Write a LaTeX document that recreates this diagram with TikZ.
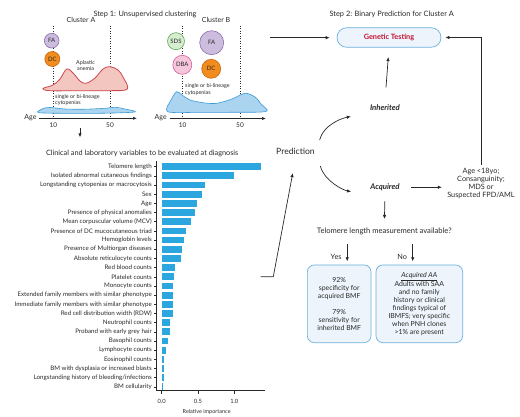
\documentclass[tikz,border=0pt]{standalone}
\usepackage{fontspec}
\setmainfont{Lato}
\usepackage{tikz}
\usetikzlibrary{arrows.meta, positioning, calc}
\definecolor{inkgray}{RGB}{40,40,40}
\definecolor{barblue}{RGB}{43,166,222}
\definecolor{boxblue}{RGB}{108,177,222}
\definecolor{boxfill}{RGB}{237,244,251}
\definecolor{testred}{RGB}{196,18,48}
\definecolor{fapurple}{RGB}{204,188,222}
\definecolor{faedge}{RGB}{140,110,176}
\definecolor{dcorange}{RGB}{242,140,30}
\definecolor{dcedge}{RGB}{200,100,15}
\definecolor{sdsgreen}{RGB}{214,237,208}
\definecolor{sdsedge}{RGB}{95,168,90}
\definecolor{dbapink}{RGB}{246,198,221}
\definecolor{dbaedge}{RGB}{215,90,155}
\definecolor{aafill}{RGB}{244,198,192}
\definecolor{aaedge}{RGB}{205,70,78}
\definecolor{cytofill}{RGB}{170,212,240}
\definecolor{cytoedge}{RGB}{60,155,215}

\begin{document}
\begin{tikzpicture}[
    x=1pt, y=-1pt,
    every node/.style={text=inkgray},
    steptitle/.style={font=\fontsize{7.4}{8}\selectfont},
    smalltxt/.style={font=\fontsize{5.4}{6.6}\selectfont, align=left, inner sep=0pt, anchor=west},
    disease/.style={circle, draw, line width=0.6pt, inner sep=0pt, font=\fontsize{6}{6}\selectfont},
    dotline/.style={line width=0.7pt, dash pattern=on 0.9pt off 1.6pt, inkgray},
    agearrow/.style={-{Latex[length=4pt,width=3.2pt]}, line width=0.7pt, inkgray},
    arrow/.style={-{Latex[length=4pt,width=3.5pt]}, line width=0.7pt, inkgray},
    branchtxt/.style={font=\fontsize{7.8}{9}\selectfont\bfseries\itshape},
    infobox/.style={draw=boxblue, fill=boxfill, rounded corners=7pt, line width=0.7pt, align=center, font=\fontsize{6.9}{8}\selectfont, minimum height=77.7pt, inner sep=1pt},
    gtest/.style={draw=boxblue, fill=boxfill, rounded corners=9.8pt, minimum width=104pt, minimum height=19.6pt, text=testred, font=\fontsize{7.3}{8}\selectfont\bfseries, line width=0.7pt},
    varlabel/.style={anchor=east, inner sep=0pt, font=\fontsize{6.2}{7}\selectfont}
]
    \useasboundingbox (0,0) rectangle (520,417);

    % Step 1: clusters
    \node[steptitle] (step1) at (145,14) {Step 1: Unsupervised clustering};
    \node[font=\fontsize{7}{8}\selectfont] (clA) at (81,20) {Cluster A};
    \node[font=\fontsize{7}{8}\selectfont] (clB) at (216,20) {Cluster B};

    \draw[dotline] (53.3,26) -- (53.3,118);
    \draw[dotline] (110,26) -- (110,118);
    \draw[dotline] (182.7,26) -- (182.7,118);
    \draw[dotline] (240,26) -- (240,118);

    % Cluster A curves
    \draw[aaedge, fill=aafill, line width=0.8pt] plot[smooth cycle, tension=0.6] coordinates {(43,88.5) (53,85) (60,79) (66.7,69) (73,73) (80,81) (86,83.3) (95,78) (103,69) (110,66.7) (118,70) (123,77) (127.3,89) (110,90.7) (80,90.7) (50,90.7)};
    \draw[cytoedge, fill=cytofill, line width=0.6pt] plot[smooth cycle, tension=0.5] coordinates {(38,112.5) (43.3,108.5) (50,107.5) (65,109) (85,109.2) (105,108.3) (115,107.3) (125,109) (135,112) (100,113.3) (60,113.3)};
    \node[smalltxt, align=center] (aa) at (76,65.5) {Aplastic\\anemia};
    \node[smalltxt] (cytoA) at (55,100) {single or bi-lineage\\cytopenias};

    % Cluster B curves
    \draw[cytoedge, fill=cytofill, line width=0.6pt] plot[smooth cycle, tension=0.5] coordinates {(167.7,111.7) (171,100) (176.7,91.7) (182,95) (190,100) (205,103) (217,103.3) (232,99) (245,93.3) (255,97) (261,104) (266,111.5) (230,112.3) (200,112.3)};
    \node[smalltxt] (cytoB) at (185,89.7) {single or bi-lineage\\cytopenias};

    % Syndromes
    \node[disease, draw=faedge, fill=fapurple, minimum size=14.7pt] (faA) at (51.7,40.7) {FA};
    \node[disease, draw=dcedge, fill=dcorange, minimum size=15pt] (dcA) at (52.3,59) {DC};
    \node[disease, draw=sdsedge, fill=sdsgreen, minimum size=17pt] (sds) at (176,41.2) {SDS};
    \node[disease, draw=faedge, fill=fapurple, minimum size=24pt] (faB) at (211.7,42.7) {FA};
    \node[disease, draw=dbaedge, fill=dbapink, minimum size=19pt] (dba) at (182.3,64.8) {DBA};
    \node[disease, draw=dcedge, fill=dcorange, minimum size=19pt] (dcB) at (211.2,68.8) {DC};

    % Age axes
    \draw[agearrow] (39,118.3) -- (137,118.3);
    \draw[agearrow] (170,118.5) -- (266,118.5);
    \node[font=\fontsize{7}{8}\selectfont] (ageA) at (30.5,118) {Age};
    \node[font=\fontsize{7}{8}\selectfont] (ageB) at (160.7,118) {Age};
    \foreach \ax in {53.3,182.7} \node[font=\fontsize{6.5}{7}\selectfont] at (\ax,124.8) {10};
    \foreach \ax in {110,240} \node[font=\fontsize{6.5}{7}\selectfont] at (\ax,124.8) {50};

    % Variable importance chart
    \node[font=\fontsize{7.3}{8}\selectfont] (charttitle) at (142.2,153.3) {Clinical and laboratory variables to be evaluated at diagnosis};
    \coordinate (s1down) at (80,128.3);
    \draw[arrow, shorten >=9pt] (s1down) -- (s1down |- charttitle.north);

    \foreach \lab/\val [count=\i] in {Telomere length/1.37, Isolated abnormal cutaneous findings/0.99, Longstanding cytopenias or macrocytosis/0.6, Sex/0.55, Age/0.49, Presence of physical anomalies/0.46, Mean corpuscular volume (MCV)/0.4, Presence of DC mucocutaneous triad/0.33, Hemoglobin levels/0.31, Presence of Multiorgan diseases/0.28, Absolute reticulocyte counts/0.27, Red blood counts/0.19, Platelet counts/0.17, Monocyte counts/0.15, Extended family members with similar phenotype/0.15, Immediate family members with similar phenotype/0.15, Red cell distribution width (RDW)/0.15, Neutrophil counts/0.115, Proband with early grey hair/0.115, Basophil counts/0.08, Lymphocyte counts/0.06, Eosinophil counts/0.03, BM with dysplasia or increased blasts/0.03, {Longstanding history of bleeding/infections}/0.025, BM cellularity/0.012}
    {
        \node[varlabel] at (152,{157.55+9.17*\i}) {\lab};
        \draw[inkgray, line width=0.5pt] (154,{157.55+9.17*\i}) -- (156.7,{157.55+9.17*\i});
        \fill[barblue] (161.7,{154.15+9.17*\i}) rectangle ({161.7+72.6*\val},{160.95+9.17*\i});
    }
    \draw[inkgray, line width=0.6pt] (156.7,161) -- (156.7,390.7) -- (265,390.7);
    \foreach \t/\tl in {0/0.0, 0.5/0.5, 1/1.0}
    {
        \draw[inkgray, line width=0.5pt] ({161.7+72.6*\t},390.7) -- ++(0,3);
        \node[font=\fontsize{5.8}{6}\selectfont] at ({161.7+72.6*\t},401.7) {\tl};
    }
    \node[font=\fontsize{5.5}{6}\selectfont] (relimp) at (206.7,412.3) {Relative importance};

    % Step 2: prediction
    \node[steptitle] (step2) at (391.7,14) {Step 2: Binary Prediction for Cluster A};
    \node[gtest] (gt) at (389,37.5) {Genetic Testing};
    \node[branchtxt] (inh) at (385,107.3) {Inherited};
    \node[font=\fontsize{8.6}{10}\selectfont] (pred) at (295.5,151.7) {Prediction};
    \node[branchtxt] (acq) at (385,187.3) {Acquired};
    \node[align=center, font=\fontsize{7.3}{7.8}\selectfont] (crit) at (481,183.3) {Age <18yo;\\Consanguinity;\\MDS or\\Suspected FPD/AML};
    \node[font=\fontsize{7.6}{9}\selectfont] (telq) at (384.3,231.7) {Telomere length measurement available?};
    \node[infobox, minimum width=63.7pt] (boxyes) at (339.2,303.8) {92\%\\specificity for\\acquired BMF\\[8pt]79\%\\sensitivity for\\inherited BMF};
    \node[infobox, minimum width=86.7pt] (boxno) at (419.3,303.8) {\underline{\textit{Acquired AA}}\\Adults with SAA\\and no family\\history or clinical\\findings typical of\\IBMFS; very specific\\when PNH clones\\>1\% are present};

    % Arrows
    \coordinate (s1out) at (270,37.7);
    \coordinate (chartout) at (260.7,276.7);
    \coordinate (yestop) at ([xshift=8pt]boxyes.north);
    \coordinate (notop) at ([xshift=-6.6pt]boxno.north);
    \draw[arrow, shorten >=7pt] (s1out) -- (s1out -| gt.west);
    \draw[arrow, shorten >=4pt] (crit.north) |- (gt.east);
    \draw[arrow, shorten <=13.6pt, shorten >=9.4pt] (inh.north) -- (gt.south);
    \draw[arrow, shorten <=5pt, shorten >=16pt] (pred.north east) to[out=75, in=190] (inh.south west);
    \draw[arrow, shorten <=8pt, shorten >=16pt] (pred.south east) to[out=-75, in=170] (acq.south west);
    \draw[arrow, shorten <=8pt, shorten >=2pt] (acq.east) -- (acq.east -| crit.west);
    \draw[arrow, shorten <=7pt, shorten >=5.7pt] (acq.south) -- (telq.north);
    \draw[arrow, shorten <=5.7pt, shorten >=3.3pt] (yestop |- telq.south) -- node[pos=0.72, left=2pt, font=\fontsize{7.3}{8}\selectfont] {Yes} (yestop);
    \draw[arrow, shorten <=5.7pt, shorten >=3.3pt] (notop |- telq.south) -- node[pos=0.72, left=2pt, font=\fontsize{7.3}{8}\selectfont] {No} (notop);
    \draw[arrow, shorten >=15pt] (chartout) -- ++(12.6,0) -- (pred.south);
\end{tikzpicture}
\end{document}
